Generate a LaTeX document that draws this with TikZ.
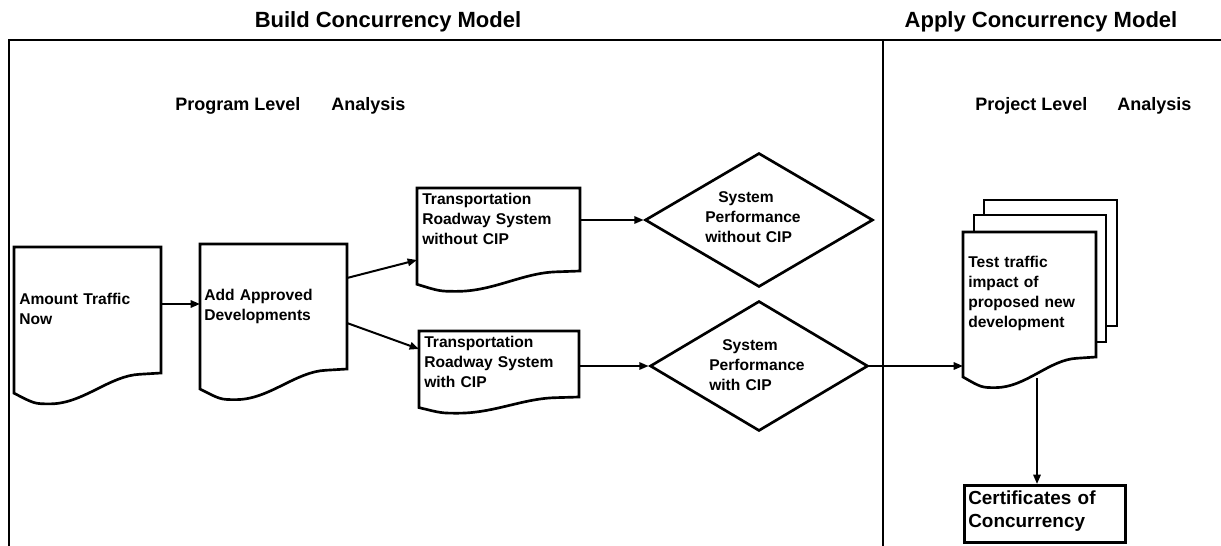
\documentclass[tikz,border=0pt]{standalone}
\usepackage{fontspec}
\setmainfont{Liberation Sans}
\usetikzlibrary{arrows.meta,shapes.geometric}

% document shape: name, left, top, width, height of the right side
\newcommand\docshape[5]{%
  \draw[shapeline] (#2,#3) -- ({#2+#4},#3) -- ({#2+#4},{#3+#5})
    -- ({#2+0.857*#4},{#3+1.01*#5})
    .. controls ({#2+0.65*#4},{#3+1.02*#5}) and ({#2+0.47*#4},{#3+1.245*#5}) .. ({#2+0.245*#4},{#3+1.245*#5})
    .. controls ({#2+0.14*#4},{#3+1.245*#5}) .. (#2,{#3+1.16*#5}) -- cycle;
  \coordinate (#1-nw) at (#2,#3);
}

\begin{document}
\begin{tikzpicture}[x=0.75pt,y=-0.75pt,
  frame/.style={line width=1.6pt},
  shapeline/.style={line width=2pt, draw=black, fill=white, line join=miter},
  flow/.style={line width=1.5pt, -{Triangle[length=7pt,width=5.5pt]}},
  doctext/.style={font=\bfseries\fontsize{11.7}{15}\selectfont, align=left, inner sep=0, anchor=base west, text width=150pt},
  certtext/.style={font=\bfseries\fontsize{14.2}{17.25}\selectfont, align=left, inner sep=0, anchor=base west, text width=150pt},
  headtext/.style={font=\bfseries\fontsize{16.5}{20}\selectfont, inner sep=0, anchor=base},
  leveltext/.style={font=\bfseries\fontsize{13.5}{16}\selectfont, inner sep=0, anchor=base west}
]
\useasboundingbox (0,0) rectangle (1221,546);

% frame of the two phases
\draw[frame] (8,40) -- (1221,40);
\draw[frame] (9,40) -- (9,546);
\draw[frame] (883,40) -- (883,546);

% headings
\node[headtext] (build) at (388,27) {Build Concurrency Model};
\node[headtext] (apply) at (1041,27) {Apply Concurrency Model};
\node[leveltext] (proglevel) at (175,110) {Program Level};
\node[leveltext] (proganalysis) at (331,110) {Analysis};
\node[leveltext] (projlevel) at (975,110) {Project Level};
\node[leveltext] (projanalysis) at (1117,110) {Analysis};

% program level documents
\docshape{amtbox}{14}{247}{147}{126}
\node[doctext] (amt) at (19,304) {Amount Traffic\\Now};
\docshape{addbox}{200}{244}{147}{125}
\node[doctext] (add) at (204,300) {Add Approved\\Developments};
\docshape{twbox}{417}{188}{163}{83}
\node[doctext] (tw) at (422,204) {Transportation\\Roadway System\\without CIP};
\docshape{tcbox}{419}{331}{160}{66}
\node[doctext] (tc) at (424,347) {Transportation\\Roadway System\\with CIP};

% performance decisions
\node[diamond, shapeline, minimum width=171pt, minimum height=100.5pt, inner sep=0] (perf1) at (759,220) {};
\node[doctext] (perf1text) at (705,202) {\hspace*{9.75pt}System\\Performance\\without CIP};
\node[diamond, shapeline, minimum width=163.5pt, minimum height=97.5pt, inner sep=0] (perf2) at (759,366) {};
\node[doctext] (perf2text) at (709,350) {\hspace*{9.75pt}System\\Performance\\with CIP};

% project level: stacked documents
\draw[shapeline] (984,200) rectangle (1117,326);
\draw[shapeline] (974,215) rectangle (1106,342);
\docshape{testbox}{963}{232}{133}{125}
\node[doctext] (test) at (968,267) {Test traffic\\impact of\\proposed new\\development};

% certificates
\node[shapeline, draw, rectangle, minimum width=120.75pt, minimum height=42.75pt, anchor=north west, inner sep=0] (cert) at (963,484) {};
\node[certtext] (certtext) at (968,504) {Certificates of\\Concurrency};

% connector ports
\coordinate (amt-out) at (161,304);
\coordinate (add-in) at (200,304);
\coordinate (add-out1) at (347,278);
\coordinate (tw-in) at (417,260);
\coordinate (add-out2) at (347,323);
\coordinate (tc-in) at (419,349);
\coordinate (tw-out) at (580,220);
\coordinate (tc-out) at (579,366);
\coordinate (test-in) at (963,366);
\coordinate (test-out) at (1037,378);
\coordinate (cert-in) at (1037,484);

% flow
\draw[flow] (amt-out) -- (add-in);
\draw[flow] (add-out1) -- (tw-in);
\draw[flow] (add-out2) -- (tc-in);
\draw[flow] (tw-out) -- (perf1.west);
\draw[flow] (tc-out) -- (perf2.west);
\draw[flow] (perf2.east) -- (test-in);
\draw[flow] (test-out) -- (cert-in);
\end{tikzpicture}
\end{document}
